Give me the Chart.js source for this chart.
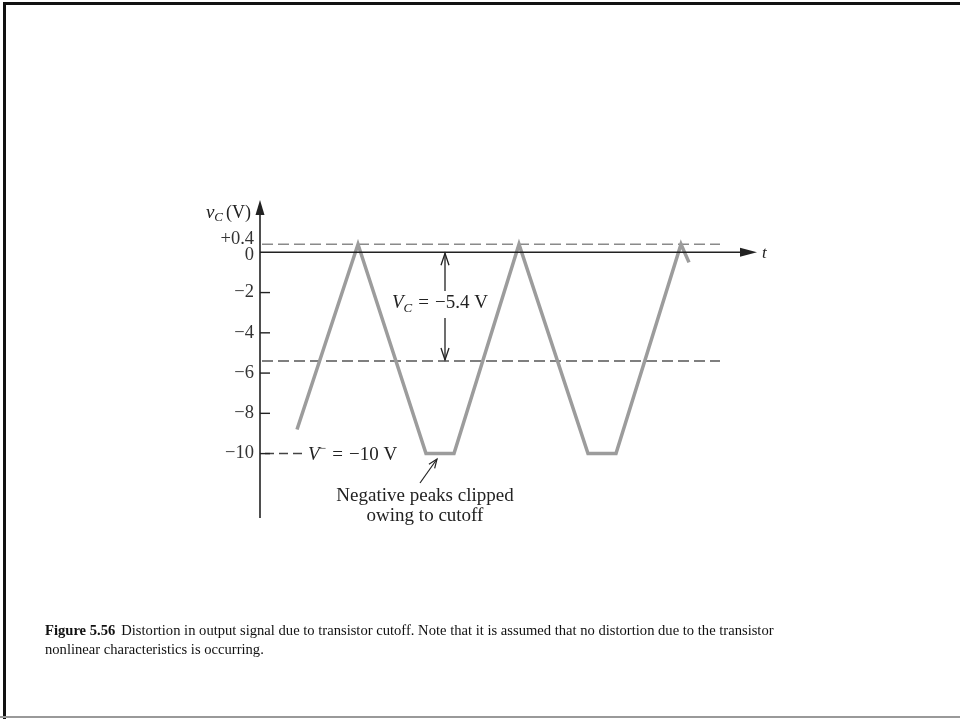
<!DOCTYPE html>
<html>
<head>
<meta charset="utf-8">
<script src="https://cdn.jsdelivr.net/npm/chart.js@4.4.1/dist/chart.umd.min.js"></script>
<style>
  html, body { margin: 0; padding: 0; background: #fff; }
  canvas { display: block; }
</style>
</head>
<body>
<canvas id="cutoff" width="960" height="719"></canvas>
<script>
// collector voltage, clipped at the supply on the negative swings
const timeVals = [0.74, 1.96, 3.32, 3.88, 5.18, 6.56, 7.12, 8.42, 8.58];
const vcVals = [-8.8, 0.4, -10, -10, 0.4, -10, -10, 0.4, -0.5];

const tickVals = [0.4, 0, -2, -4, -6, -8, -10];
const tickLabels = ['+0.4', '0', '\u22122', '\u22124', '\u22126', '\u22128', '\u221210'];

const peakLevel = 0.4;
const biasLevel = -5.4;
const supplyLevel = -10;
const refSpan = [0.04, 9.2];
const supplySpan = [0.1, 0.84];

const SERIF = '"Liberation Serif", "Times New Roman", serif';

function pts(xs, ys) {
  return xs.map((x, i) => ({ x: x, y: ys[i] }));
}

// draws a run of text pieces (italic letters, subscripts) starting at x
function richText(ctx, parts, x, y, align) {
  let total = 0;
  parts.forEach(p => { ctx.font = p.font; total += ctx.measureText(p.t).width + (p.gap || 0); });
  let cx = align === 'right' ? x - total : align === 'center' ? x - total / 2 : x;
  ctx.textAlign = 'left';
  ctx.textBaseline = 'alphabetic';
  parts.forEach(p => {
    ctx.font = p.font;
    ctx.fillText(p.t, cx, y + (p.dy || 0));
    cx += ctx.measureText(p.t).width + (p.gap || 0);
  });
}

function arrowHead(ctx, x, y, ang, len, half, filled) {
  ctx.save();
  ctx.translate(x, y);
  ctx.rotate(ang);
  ctx.beginPath();
  ctx.moveTo(-len, -half);
  ctx.lineTo(0, 0);
  ctx.lineTo(-len, half);
  if (filled) { ctx.closePath(); ctx.fill(); } else { ctx.stroke(); }
  ctx.restore();
}

const frameAndAxes = {
  id: 'frameAndAxes',
  beforeDraw(chart) {
    const ctx = chart.ctx;
    ctx.save();
    ctx.fillStyle = '#fff';
    ctx.fillRect(0, 0, chart.width, chart.height);
    ctx.strokeStyle = '#111';
    ctx.lineWidth = 3;
    ctx.beginPath();
    ctx.moveTo(4.5, chart.height);
    ctx.lineTo(4.5, 3.5);
    ctx.lineTo(chart.width, 3.5);
    ctx.stroke();
    ctx.strokeStyle = '#999';
    ctx.lineWidth = 2;
    ctx.beginPath();
    ctx.moveTo(0, 717);
    ctx.lineTo(chart.width, 717);
    ctx.stroke();
    ctx.restore();
  },
  afterDraw(chart) {
    const ctx = chart.ctx;
    const xs = chart.scales.x, ys = chart.scales.y;
    const x0 = xs.getPixelForValue(0);
    const y0 = ys.getPixelForValue(0);
    ctx.save();
    ctx.strokeStyle = '#222';
    ctx.fillStyle = '#222';

    // vertical axis with arrow
    ctx.lineWidth = 1.6;
    ctx.beginPath();
    ctx.moveTo(x0, chart.chartArea.bottom);
    ctx.lineTo(x0, chart.chartArea.top + 8);
    ctx.stroke();
    arrowHead(ctx, x0, chart.chartArea.top - 2, -Math.PI / 2, 15, 4.5, true);

    // time axis with arrow
    const xEnd = xs.getPixelForValue(9.94);
    ctx.lineWidth = 1.4;
    ctx.beginPath();
    ctx.moveTo(x0, y0);
    ctx.lineTo(xEnd - 8, y0);
    ctx.stroke();
    arrowHead(ctx, xEnd, y0, 0, 17, 4.5, true);
    ctx.font = 'italic 17px ' + SERIF;
    ctx.textBaseline = 'middle';
    ctx.fillText('t', xEnd + 5, y0 + 1);

    // ticks pointing into the plot
    ctx.lineWidth = 1.4;
    tickVals.forEach((v, i) => {
      const py = ys.getPixelForValue(v);
      if (v !== 0 && v !== peakLevel) {
        ctx.beginPath();
        ctx.moveTo(x0, py);
        ctx.lineTo(x0 + 10, py);
        ctx.stroke();
      }
      ctx.fillStyle = '#333';
      ctx.font = '18.5px ' + SERIF;
      ctx.textAlign = 'right';
      ctx.textBaseline = 'middle';
      let off = 0;
      if (v === peakLevel) off = -5;
      if (v === 0) off = 3;
      ctx.fillText(tickLabels[i], x0 - 6, py + off);
    });

    // axis title v_C (V)
    ctx.fillStyle = '#222';
    richText(ctx, [
      { t: 'v', font: 'italic 19px ' + SERIF },
      { t: 'C', font: 'italic 13px ' + SERIF, dy: 3, gap: 3 },
      { t: '(V)', font: '18px ' + SERIF }
    ], x0 - 9, 218, 'right');

    // bias marker: double arrow between 0 and V_C
    const ax = xs.getPixelForValue(3.7);
    const yb = ys.getPixelForValue(biasLevel);
    ctx.lineWidth = 1.3;
    ctx.beginPath();
    ctx.moveTo(ax, y0 + 1); ctx.lineTo(ax, 291);
    ctx.moveTo(ax, 318); ctx.lineTo(ax, yb - 1);
    ctx.stroke();
    arrowHead(ctx, ax, y0 + 1, -Math.PI / 2, 12, 4, false);
    arrowHead(ctx, ax, yb - 1, Math.PI / 2, 12, 4, false);

    ctx.fillStyle = '#222';
    richText(ctx, [
      { t: 'V', font: 'italic 19px ' + SERIF },
      { t: 'C', font: 'italic 13px ' + SERIF, dy: 4, gap: 6 },
      { t: '=', font: '19px ' + SERIF, gap: 6 },
      { t: '\u22125.4 V', font: '19px ' + SERIF }
    ], 392, 308, 'left');

    // supply label
    const ysup = ys.getPixelForValue(supplyLevel);
    richText(ctx, [
      { t: 'V', font: 'italic 19px ' + SERIF },
      { t: '\u2212', font: '12px ' + SERIF, dy: -8, gap: 6 },
      { t: '=', font: '19px ' + SERIF, gap: 6 },
      { t: '\u221210 V', font: '19px ' + SERIF }
    ], 308, ysup + 6, 'left');

    // pointer to the clipped peak
    ctx.strokeStyle = '#222';
    ctx.lineWidth = 1.2;
    const tipX = 437, tipY = 459;
    ctx.beginPath();
    ctx.moveTo(420, 483);
    ctx.lineTo(tipX, tipY);
    ctx.stroke();
    arrowHead(ctx, tipX, tipY, Math.atan2(tipY - 483, tipX - 420), 9, 3.5, false);

    ctx.font = '19px ' + SERIF;
    ctx.textAlign = 'center';
    ctx.textBaseline = 'alphabetic';
    ctx.fillText('Negative peaks clipped', 425, 501);
    ctx.fillText('owing to cutoff', 425, 521);

    // caption
    ctx.fillStyle = '#111';
    richText(ctx, [
      { t: 'Figure 5.56', font: 'bold 14.6px ' + SERIF, gap: 6 },
      { t: 'Distortion in output signal due to transistor cutoff. Note that it is assumed that no distortion due to the transistor', font: '14.6px ' + SERIF }
    ], 45, 635, 'left');
    ctx.font = '14.6px ' + SERIF;
    ctx.textAlign = 'left';
    ctx.fillText('nonlinear characteristics is occurring.', 45, 654);
    ctx.restore();
  }
};

new Chart(document.getElementById('cutoff'), {
  type: 'scatter',
  data: {
    datasets: [
      {
        label: 'v_C',
        data: pts(timeVals, vcVals),
        showLine: true,
        borderColor: '#9c9c9c',
        borderWidth: 3.5,
        pointRadius: 0,
        tension: 0,
        borderJoinStyle: 'miter'
      },
      {
        label: 'peak',
        data: pts(refSpan, [peakLevel, peakLevel]),
        showLine: true,
        borderColor: '#8a8a8a',
        borderWidth: 1.5,
        borderDash: [11, 5],
        pointRadius: 0
      },
      {
        label: 'bias',
        data: pts(refSpan, [biasLevel, biasLevel]),
        showLine: true,
        borderColor: '#555',
        borderWidth: 1.5,
        borderDash: [11, 5],
        pointRadius: 0
      },
      {
        label: 'supply',
        data: pts(supplySpan, [supplyLevel, supplyLevel]),
        showLine: true,
        borderColor: '#444',
        borderWidth: 1.5,
        borderDash: [9, 5],
        pointRadius: 0
      }
    ]
  },
  options: {
    responsive: false,
    animation: false,
    layout: { padding: { left: 260, right: 200, top: 202, bottom: 201 } },
    plugins: { legend: { display: false }, tooltip: { enabled: false } },
    scales: {
      x: { type: 'linear', min: 0, max: 10, display: false },
      y: { type: 'linear', min: -13.2, max: 2.5, display: false }
    }
  },
  plugins: [frameAndAxes]
});
</script>
</body>
</html>
